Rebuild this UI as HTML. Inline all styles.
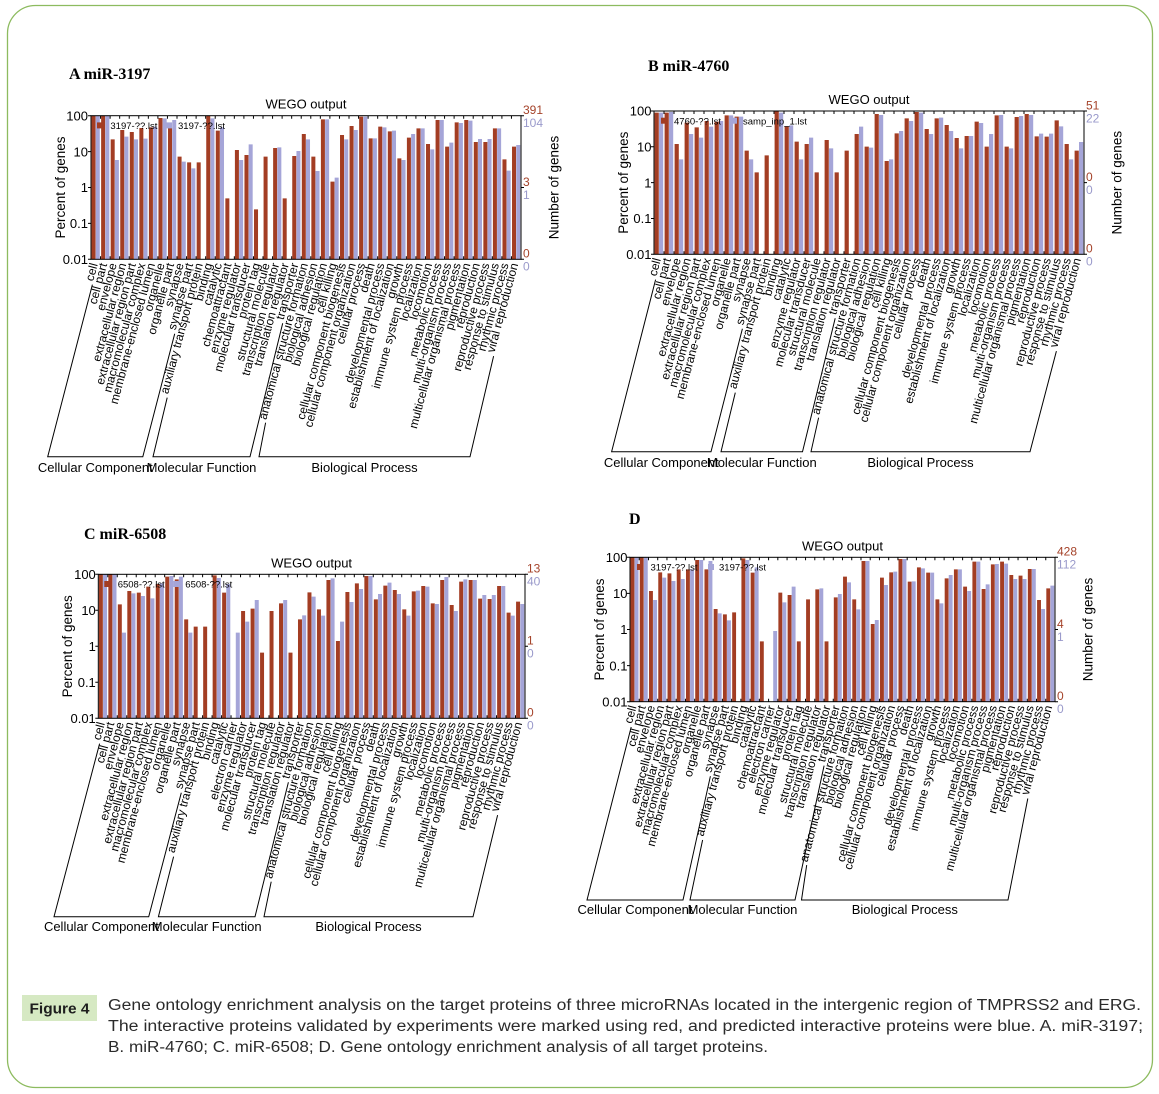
<!DOCTYPE html>
<html><head><meta charset="utf-8"><style>html,body{margin:0;padding:0;background:#fff}svg{display:block}</style></head><body>
<svg width="1159" height="1094" viewBox="0 0 1159 1094" xmlns="http://www.w3.org/2000/svg" font-family="'Liberation Sans', Arial, sans-serif">
<rect x="7.5" y="5.5" width="1145" height="1082" rx="28" fill="none" stroke="#8dbb5f" stroke-width="1.3"/>

<!-- ================= PANEL A ================= -->
<text x="69" y="79" font-family="'Liberation Serif', serif" font-weight="bold" font-size="16">A miR-3197</text>
<text x="306" y="108.7" text-anchor="middle" font-size="13">WEGO output</text>
<g transform="translate(91,50) scale(9.5556,0.33333)">
<path fill="#a33d23" d="M.06 197h.42V628h-.42zM1.06 197h.42V628h-.42zM2.06 268h.42V628h-.42zM3.06 240h.42V628h-.42zM4.06 246h.42V628h-.42zM5.06 234h.42V628h-.42zM6.06 232h.42V628h-.42zM7.06 204h.42V628h-.42zM8.06 233h.42V628h-.42zM9.06 320h.42V628h-.42zM10.06 337h.42V628h-.42zM11.06 337h.42V628h-.42zM12.06 197h.42V628h-.42zM13.06 242h.42V628h-.42zM14.06 445h.42V628h-.42zM15.06 300h.42V628h-.42zM16.06 315h.42V628h-.42zM17.06 478h.42V628h-.42zM18.06 320h.42V628h-.42zM19.06 294h.42V628h-.42zM20.06 445h.42V628h-.42zM21.06 318h.42V628h-.42zM22.06 252h.42V628h-.42zM23.06 320h.42V628h-.42zM24.06 208h.42V628h-.42zM25.06 395h.42V628h-.42zM26.06 255h.42V628h-.42zM27.06 228h.42V628h-.42zM28.06 200h.42V628h-.42zM29.06 265h.42V628h-.42zM30.06 230h.42V628h-.42zM31.06 244h.42V628h-.42zM32.06 325h.42V628h-.42zM33.06 263h.42V628h-.42zM34.06 235h.42V628h-.42zM35.06 282h.42V628h-.42zM36.06 210h.42V628h-.42zM37.06 290h.42V628h-.42zM38.06 217h.42V628h-.42zM39.06 210h.42V628h-.42zM40.06 276h.42V628h-.42zM41.06 276h.42V628h-.42zM42.06 235h.42V628h-.42zM43.06 328h.42V628h-.42zM44.06 290h.42V628h-.42z"/>
<path fill="#a5a5d8" d="M.5 197h.42V628h-.42zM1.5 197h.42V628h-.42zM2.5 330h.42V628h-.42zM3.5 260h.42V628h-.42zM4.5 268h.42V628h-.42zM5.5 266h.42V628h-.42zM6.5 230h.42V628h-.42zM7.5 205h.42V628h-.42zM8.5 210h.42V628h-.42zM9.5 335h.42V628h-.42zM10.5 355h.42V628h-.42zM12.5 205h.42V628h-.42zM13.5 232h.42V628h-.42zM15.5 330h.42V628h-.42zM16.5 283h.42V628h-.42zM19.5 292h.42V628h-.42zM21.5 303h.42V628h-.42zM22.5 268h.42V628h-.42zM23.5 363h.42V628h-.42zM24.5 208h.42V628h-.42zM25.5 383h.42V628h-.42zM26.5 268h.42V628h-.42zM27.5 240h.42V628h-.42zM28.5 200h.42V628h-.42zM29.5 265h.42V628h-.42zM30.5 232h.42V628h-.42zM31.5 242h.42V628h-.42zM32.5 330h.42V628h-.42zM33.5 252h.42V628h-.42zM34.5 235h.42V628h-.42zM35.5 298h.42V628h-.42zM36.5 210h.42V628h-.42zM37.5 278h.42V628h-.42zM38.5 219h.42V628h-.42zM39.5 212h.42V628h-.42zM40.5 267h.42V628h-.42zM41.5 267h.42V628h-.42zM42.5 235h.42V628h-.42zM43.5 362h.42V628h-.42zM44.5 285h.42V628h-.42z"/>
</g>
<rect x="91" y="115.7" width="430" height="143.6" fill="none" stroke="#000" stroke-width="1"/>
<line x1="100.06" y1="117.2" x2="521" y2="117.2" stroke="#000" stroke-width="3" stroke-dasharray="1 8.5556"/>
<line x1="100.06" y1="257.8" x2="521" y2="257.8" stroke="#000" stroke-width="3" stroke-dasharray="1 8.5556"/>
<path d="M88 115.7h3M88 151.6h3M88 187.5h3M88 223.4h3M88 259.3h3M521 115.7h3M521 187.5h3M521 259.3h3" stroke="#000" stroke-width="1"/>
<g font-size="13" text-anchor="end"><text x="88" y="120.4">100</text><text x="88" y="156.3">10</text><text x="88" y="192.2">1</text><text x="88" y="228.1">0.1</text><text x="88" y="264">0.01</text></g>
<g font-size="12"><text x="523" y="114" fill="#a5432a">391</text><text x="523" y="127" fill="#9a9acb">104</text><text x="523" y="185.8" fill="#a5432a">3</text><text x="523" y="198.8" fill="#9a9acb">1</text><text x="523" y="257.6" fill="#a5432a">0</text><text x="523" y="270.6" fill="#9a9acb">0</text></g>
<text transform="translate(64.8,187.5) rotate(-90)" text-anchor="middle" font-size="13.5">Percent of genes</text>
<text transform="translate(558.5,187.5) rotate(-90)" text-anchor="middle" font-size="13.5">Number of genes</text>
<rect x="97" y="122.4" width="6" height="6" fill="#a33d23"/><text x="110.4" y="129.1" font-size="9.5">3197-??.lst</text>
<rect x="166" y="122.4" width="6" height="6" fill="#a5a5d8"/><text x="178" y="129.1" font-size="9.5">3197-??.lst</text>
<g font-size="12" text-anchor="end">
<text transform="translate(97.8,264.3)rotate(-75)">cell</text>
<text transform="translate(107.3,264.3)rotate(-75)">cell part</text>
<text transform="translate(116.9,264.3)rotate(-75)">envelope</text>
<text transform="translate(126.4,264.3)rotate(-75)">extracellular region</text>
<text transform="translate(136,264.3)rotate(-75)">extracellular region part</text>
<text transform="translate(145.6,264.3)rotate(-75)">macromolecular complex</text>
<text transform="translate(155.1,264.3)rotate(-75)">membrane-enclosed lumen</text>
<text transform="translate(164.7,264.3)rotate(-75)">organelle</text>
<text transform="translate(174.2,264.3)rotate(-75)">organelle part</text>
<text transform="translate(183.8,264.3)rotate(-75)">synapse</text>
<text transform="translate(193.3,264.3)rotate(-75)">synapse part</text>
<text transform="translate(202.9,264.3)rotate(-75)">auxiliary transport protein</text>
<text transform="translate(212.4,264.3)rotate(-75)">binding</text>
<text transform="translate(222,264.3)rotate(-75)">catalytic</text>
<text transform="translate(231.6,264.3)rotate(-75)">chemoattractant</text>
<text transform="translate(241.1,264.3)rotate(-75)">enzyme regulator</text>
<text transform="translate(250.7,264.3)rotate(-75)">molecular transducer</text>
<text transform="translate(260.2,264.3)rotate(-75)">protein tag</text>
<text transform="translate(269.8,264.3)rotate(-75)">structural molecule</text>
<text transform="translate(279.3,264.3)rotate(-75)">transcription regulator</text>
<text transform="translate(288.9,264.3)rotate(-75)">translation regulator</text>
<text transform="translate(298.5,264.3)rotate(-75)">transporter</text>
<text transform="translate(308,264.3)rotate(-75)">anatomical structure formation</text>
<text transform="translate(317.6,264.3)rotate(-75)">biological adhesion</text>
<text transform="translate(327.1,264.3)rotate(-75)">biological regulation</text>
<text transform="translate(336.7,264.3)rotate(-75)">cell killing</text>
<text transform="translate(346.2,264.3)rotate(-75)">cellular component biogenesis</text>
<text transform="translate(355.8,264.3)rotate(-75)">cellular component organization</text>
<text transform="translate(365.3,264.3)rotate(-75)">cellular process</text>
<text transform="translate(374.9,264.3)rotate(-75)">death</text>
<text transform="translate(384.5,264.3)rotate(-75)">developmental process</text>
<text transform="translate(394,264.3)rotate(-75)">establishment of localization</text>
<text transform="translate(403.6,264.3)rotate(-75)">growth</text>
<text transform="translate(413.1,264.3)rotate(-75)">immune system process</text>
<text transform="translate(422.7,264.3)rotate(-75)">localization</text>
<text transform="translate(432.2,264.3)rotate(-75)">locomotion</text>
<text transform="translate(441.8,264.3)rotate(-75)">metabolic process</text>
<text transform="translate(451.4,264.3)rotate(-75)">multi-organism process</text>
<text transform="translate(460.9,264.3)rotate(-75)">multicellular organismal process</text>
<text transform="translate(470.5,264.3)rotate(-75)">pigmentation</text>
<text transform="translate(480,264.3)rotate(-75)">reproduction</text>
<text transform="translate(489.6,264.3)rotate(-75)">reproductive process</text>
<text transform="translate(499.1,264.3)rotate(-75)">response to stimulus</text>
<text transform="translate(508.7,264.3)rotate(-75)">rhythmic process</text>
<text transform="translate(518.2,264.3)rotate(-75)">viral reproduction</text>
</g>
<g fill="none" stroke="#000" stroke-width="1">
<polyline points="92.4,284.6 47.7,456.7 142.8,456.7 174.7,333.8"/>
<polyline points="167.2,397.6 153,456.7 250,456.7 282.7,323.2"/>
<polyline points="265.6,422.7 259,456.7 470,456.7 493.6,356.1"/>
</g>
<g font-size="13" text-anchor="middle"><text x="95.3" y="472">Cellular Component</text><text x="201.5" y="472">Molecular Function</text><text x="364.5" y="472">Biological Process</text></g>

<!-- ================= PANEL B ================= -->
<text x="648" y="71" font-family="'Liberation Serif', serif" font-weight="bold" font-size="16">B miR-4760</text>
<text x="869" y="104" text-anchor="middle" font-size="13">WEGO output</text>
<g transform="translate(654,50) scale(10,0.33333)">
<path fill="#a33d23" d="M.06 188h.42V613h-.42zM1.06 188h.42V613h-.42zM2.06 282h.42V613h-.42zM3.06 218h.42V613h-.42zM4.06 232h.42V613h-.42zM5.06 213h.42V613h-.42zM6.06 215h.42V613h-.42zM7.06 196h.42V613h-.42zM8.06 200h.42V613h-.42zM9.06 302h.42V613h-.42zM10.06 367h.42V613h-.42zM11.06 316h.42V613h-.42zM12.06 183h.42V613h-.42zM13.06 230h.42V613h-.42zM14.06 275h.42V613h-.42zM15.06 282h.42V613h-.42zM16.06 367h.42V613h-.42zM17.06 270h.42V613h-.42zM18.06 367h.42V613h-.42zM19.06 302h.42V613h-.42zM20.06 252h.42V613h-.42zM21.06 290h.42V613h-.42zM22.06 192h.42V613h-.42zM23.06 333h.42V613h-.42zM24.06 250h.42V613h-.42zM25.06 205h.42V613h-.42zM26.06 186h.42V613h-.42zM27.06 237h.42V613h-.42zM28.06 205h.42V613h-.42zM29.06 225h.42V613h-.42zM30.06 264h.42V613h-.42zM31.06 258h.42V613h-.42zM32.06 215h.42V613h-.42zM33.06 290h.42V613h-.42zM34.06 196h.42V613h-.42zM35.06 290h.42V613h-.42zM36.06 201h.42V613h-.42zM37.06 192h.42V613h-.42zM38.06 259h.42V613h-.42zM39.06 260h.42V613h-.42zM40.06 211h.42V613h-.42zM41.06 282h.42V613h-.42zM42.06 302h.42V613h-.42z"/>
<path fill="#a5a5d8" d="M.5 188h.42V613h-.42zM1.5 186h.42V613h-.42zM2.5 328h.42V613h-.42zM3.5 252h.42V613h-.42zM4.5 263h.42V613h-.42zM5.5 230h.42V613h-.42zM6.5 213h.42V613h-.42zM7.5 196h.42V613h-.42zM8.5 200h.42V613h-.42zM9.5 328h.42V613h-.42zM12.5 188h.42V613h-.42zM13.5 226h.42V613h-.42zM14.5 328h.42V613h-.42zM15.5 263h.42V613h-.42zM17.5 295h.42V613h-.42zM20.5 230h.42V613h-.42zM21.5 293h.42V613h-.42zM22.5 195h.42V613h-.42zM23.5 328h.42V613h-.42zM24.5 243h.42V613h-.42zM25.5 213h.42V613h-.42zM26.5 188h.42V613h-.42zM27.5 252h.42V613h-.42zM28.5 203h.42V613h-.42zM29.5 243h.42V613h-.42zM30.5 295h.42V613h-.42zM31.5 258h.42V613h-.42zM32.5 219h.42V613h-.42zM33.5 252h.42V613h-.42zM34.5 195h.42V613h-.42zM35.5 295h.42V613h-.42zM36.5 198h.42V613h-.42zM37.5 195h.42V613h-.42zM38.5 251h.42V613h-.42zM39.5 251h.42V613h-.42zM40.5 229h.42V613h-.42zM41.5 328h.42V613h-.42zM42.5 276h.42V613h-.42z"/>
</g>
<rect x="654" y="111" width="430" height="143.3" fill="none" stroke="#000" stroke-width="1"/>
<line x1="663.5" y1="112.5" x2="1084" y2="112.5" stroke="#000" stroke-width="3" stroke-dasharray="1 9"/>
<line x1="663.5" y1="252.8" x2="1084" y2="252.8" stroke="#000" stroke-width="3" stroke-dasharray="1 9"/>
<path d="M651 111h3M651 146.8h3M651 182.6h3M651 218.5h3M651 254.3h3M1084 111h3M1084 182.6h3M1084 254.3h3" stroke="#000" stroke-width="1"/>
<g font-size="13" text-anchor="end"><text x="651.5" y="115.7">100</text><text x="651.5" y="151.5">10</text><text x="651.5" y="187.3">1</text><text x="651.5" y="223.2">0.1</text><text x="651.5" y="259">0.01</text></g>
<g font-size="12"><text x="1086" y="109.3" fill="#a5432a">51</text><text x="1086" y="122.3" fill="#9a9acb">22</text><text x="1086" y="180.9" fill="#a5432a">0</text><text x="1086" y="193.9" fill="#9a9acb">0</text><text x="1086" y="252.6" fill="#a5432a">0</text><text x="1086" y="265.6" fill="#9a9acb">0</text></g>
<text transform="translate(627.8,182.7) rotate(-90)" text-anchor="middle" font-size="13.5">Percent of genes</text>
<text transform="translate(1121.5,182.7) rotate(-90)" text-anchor="middle" font-size="13.5">Number of genes</text>
<rect x="661" y="117.7" width="6" height="6" fill="#a33d23"/><text x="674" y="124.4" font-size="9.5">4760-??.lst</text>
<rect x="731" y="117.7" width="6" height="6" fill="#a5a5d8"/><text x="743" y="124.4" font-size="9.5">samp_inp_1.lst</text>
<g font-size="12" text-anchor="end">
<text transform="translate(661,259.3)rotate(-75)">cell</text>
<text transform="translate(671,259.3)rotate(-75)">cell part</text>
<text transform="translate(681,259.3)rotate(-75)">envelope</text>
<text transform="translate(691,259.3)rotate(-75)">extracellular region</text>
<text transform="translate(701,259.3)rotate(-75)">extracellular region part</text>
<text transform="translate(711,259.3)rotate(-75)">macromolecular complex</text>
<text transform="translate(721,259.3)rotate(-75)">membrane-enclosed lumen</text>
<text transform="translate(731,259.3)rotate(-75)">organelle</text>
<text transform="translate(741,259.3)rotate(-75)">organelle part</text>
<text transform="translate(751,259.3)rotate(-75)">synapse</text>
<text transform="translate(761,259.3)rotate(-75)">synapse part</text>
<text transform="translate(771,259.3)rotate(-75)">auxiliary transport protein</text>
<text transform="translate(781,259.3)rotate(-75)">binding</text>
<text transform="translate(791,259.3)rotate(-75)">catalytic</text>
<text transform="translate(801,259.3)rotate(-75)">enzyme regulator</text>
<text transform="translate(811,259.3)rotate(-75)">molecular transducer</text>
<text transform="translate(821,259.3)rotate(-75)">structural molecule</text>
<text transform="translate(831,259.3)rotate(-75)">transcription regulator</text>
<text transform="translate(841,259.3)rotate(-75)">translation regulator</text>
<text transform="translate(851,259.3)rotate(-75)">transporter</text>
<text transform="translate(861,259.3)rotate(-75)">anatomical structure formation</text>
<text transform="translate(871,259.3)rotate(-75)">biological adhesion</text>
<text transform="translate(881,259.3)rotate(-75)">biological regulation</text>
<text transform="translate(891,259.3)rotate(-75)">cell killing</text>
<text transform="translate(901,259.3)rotate(-75)">cellular component biogenesis</text>
<text transform="translate(911,259.3)rotate(-75)">cellular component organization</text>
<text transform="translate(921,259.3)rotate(-75)">cellular process</text>
<text transform="translate(931,259.3)rotate(-75)">death</text>
<text transform="translate(941,259.3)rotate(-75)">developmental process</text>
<text transform="translate(951,259.3)rotate(-75)">establishment of localization</text>
<text transform="translate(961,259.3)rotate(-75)">growth</text>
<text transform="translate(971,259.3)rotate(-75)">immune system process</text>
<text transform="translate(981,259.3)rotate(-75)">localization</text>
<text transform="translate(991,259.3)rotate(-75)">locomotion</text>
<text transform="translate(1001,259.3)rotate(-75)">metabolic process</text>
<text transform="translate(1011,259.3)rotate(-75)">multi-organism process</text>
<text transform="translate(1021,259.3)rotate(-75)">multicellular organismal process</text>
<text transform="translate(1031,259.3)rotate(-75)">pigmentation</text>
<text transform="translate(1041,259.3)rotate(-75)">reproduction</text>
<text transform="translate(1051,259.3)rotate(-75)">reproductive process</text>
<text transform="translate(1061,259.3)rotate(-75)">response to stimulus</text>
<text transform="translate(1071,259.3)rotate(-75)">rhythmic process</text>
<text transform="translate(1081,259.3)rotate(-75)">viral reproduction</text>
</g>
<g fill="none" stroke="#000" stroke-width="1">
<polyline points="655.6,279.6 611.6,451.7 711,451.7 742.4,328.8"/>
<polyline points="735.3,392.6 721,451.7 802.5,451.7 835.2,318.2"/>
<polyline points="818.6,417.7 811,451.7 1030,451.7 1056.4,351.1"/>
</g>
<g font-size="13" text-anchor="middle"><text x="661.3" y="467">Cellular Component</text><text x="761.8" y="467">Molecular Function</text><text x="920.5" y="467">Biological Process</text></g>

<!-- ================= PANEL C ================= -->
<defs><clipPath id="clipC"><rect x="0" y="480" width="541" height="470"/></clipPath></defs>
<text x="84" y="539" font-family="'Liberation Serif', serif" font-weight="bold" font-size="16">C miR-6508</text>
<g clip-path="url(#clipC)">
<text x="311.6" y="567.3" text-anchor="middle" font-size="13">WEGO output</text>
<g transform="translate(98.3,570) scale(9.482,0.33333)">
<path fill="#a33d23" d="M.06 13h.42V445h-.42zM1.06 13h.42V445h-.42zM2.06 103h.42V445h-.42zM3.06 63h.42V445h-.42zM4.06 68h.42V445h-.42zM5.06 50h.42V445h-.42zM6.06 42h.42V445h-.42zM7.06 20h.42V445h-.42zM8.06 28h.42V445h-.42zM9.06 148h.42V445h-.42zM10.06 170h.42V445h-.42zM11.06 170h.42V445h-.42zM12.06 16h.42V445h-.42zM13.06 68h.42V445h-.42zM15.06 123h.42V445h-.42zM16.06 116h.42V445h-.42zM17.06 248h.42V445h-.42zM18.06 123h.42V445h-.42zM19.06 100h.42V445h-.42zM20.06 248h.42V445h-.42zM21.06 148h.42V445h-.42zM22.06 67h.42V445h-.42zM23.06 118h.42V445h-.42zM24.06 30h.42V445h-.42zM25.06 213h.42V445h-.42zM26.06 66h.42V445h-.42zM27.06 40h.42V445h-.42zM28.06 18h.42V445h-.42zM29.06 88h.42V445h-.42zM30.06 47h.42V445h-.42zM31.06 60h.42V445h-.42zM32.06 118h.42V445h-.42zM33.06 64h.42V445h-.42zM34.06 48h.42V445h-.42zM35.06 100h.42V445h-.42zM36.06 30h.42V445h-.42zM37.06 105h.42V445h-.42zM38.06 35h.42V445h-.42zM39.06 30h.42V445h-.42zM40.06 86h.42V445h-.42zM41.06 87h.42V445h-.42zM42.06 48h.42V445h-.42zM43.06 128h.42V445h-.42zM44.06 95h.42V445h-.42z"/>
<path fill="#a5a5d8" d="M.5 13h.42V445h-.42zM1.5 13h.42V445h-.42zM2.5 188h.42V445h-.42zM3.5 70h.42V445h-.42zM4.5 78h.42V445h-.42zM5.5 85h.42V445h-.42zM6.5 40h.42V445h-.42zM7.5 18h.42V445h-.42zM8.5 20h.42V445h-.42zM9.5 188h.42V445h-.42zM12.5 24h.42V445h-.42zM13.5 42h.42V445h-.42zM14.5 188h.42V445h-.42zM15.5 155h.42V445h-.42zM16.5 90h.42V445h-.42zM19.5 90h.42V445h-.42zM21.5 136h.42V445h-.42zM22.5 80h.42V445h-.42zM23.5 137h.42V445h-.42zM24.5 25h.42V445h-.42zM25.5 155h.42V445h-.42zM26.5 96h.42V445h-.42zM27.5 57h.42V445h-.42zM28.5 18h.42V445h-.42zM29.5 72h.42V445h-.42zM30.5 38h.42V445h-.42zM31.5 72h.42V445h-.42zM32.5 137h.42V445h-.42zM33.5 62h.42V445h-.42zM34.5 50h.42V445h-.42zM35.5 102h.42V445h-.42zM36.5 21h.42V445h-.42zM37.5 123h.42V445h-.42zM38.5 28h.42V445h-.42zM39.5 30h.42V445h-.42zM40.5 75h.42V445h-.42zM41.5 75h.42V445h-.42zM42.5 48h.42V445h-.42zM43.5 137h.42V445h-.42zM44.5 102h.42V445h-.42z"/>
</g>
<rect x="98.3" y="574.3" width="426.7" height="144" fill="none" stroke="#000" stroke-width="1"/>
<line x1="107.28" y1="575.8" x2="525" y2="575.8" stroke="#000" stroke-width="3" stroke-dasharray="1 8.482"/>
<line x1="107.28" y1="716.8" x2="525" y2="716.8" stroke="#000" stroke-width="3" stroke-dasharray="1 8.482"/>
<path d="M95.3 574.3h3M95.3 610.3h3M95.3 646.3h3M95.3 682.3h3M95.3 718.3h3M525 574.3h3M525 646.3h3M525 718.3h3" stroke="#000" stroke-width="1"/>
<g font-size="13" text-anchor="end"><text x="95.8" y="579">100</text><text x="95.8" y="615">10</text><text x="95.8" y="651">1</text><text x="95.8" y="687">0.1</text><text x="95.8" y="723">0.01</text></g>
<g font-size="12"><text x="527" y="572.6" fill="#a5432a">13</text><text x="527" y="585.6" fill="#9a9acb">40</text><text x="527" y="644.6" fill="#a5432a">1</text><text x="527" y="657.6" fill="#9a9acb">0</text><text x="527" y="716.6" fill="#a5432a">0</text><text x="527" y="729.6" fill="#9a9acb">0</text></g>
</g>
<text transform="translate(72.1,646.3) rotate(-90)" text-anchor="middle" font-size="13.5">Percent of genes</text>
<rect x="104.3" y="581" width="6" height="6" fill="#a33d23"/><text x="117.7" y="587.7" font-size="9.5">6508-??.lst</text>
<rect x="173.3" y="581" width="6" height="6" fill="#a5a5d8"/><text x="185.3" y="587.7" font-size="9.5">6508-??.lst</text>
<g font-size="12" text-anchor="end">
<text transform="translate(105,723.3)rotate(-75)">cell</text>
<text transform="translate(114.5,723.3)rotate(-75)">cell part</text>
<text transform="translate(124,723.3)rotate(-75)">envelope</text>
<text transform="translate(133.5,723.3)rotate(-75)">extracellular region</text>
<text transform="translate(143,723.3)rotate(-75)">extracellular region part</text>
<text transform="translate(152.4,723.3)rotate(-75)">macromolecular complex</text>
<text transform="translate(161.9,723.3)rotate(-75)">membrane-enclosed lumen</text>
<text transform="translate(171.4,723.3)rotate(-75)">organelle</text>
<text transform="translate(180.9,723.3)rotate(-75)">organelle part</text>
<text transform="translate(190.4,723.3)rotate(-75)">synapse</text>
<text transform="translate(199.9,723.3)rotate(-75)">synapse part</text>
<text transform="translate(209.3,723.3)rotate(-75)">auxiliary transport protein</text>
<text transform="translate(218.8,723.3)rotate(-75)">binding</text>
<text transform="translate(228.3,723.3)rotate(-75)">catalytic</text>
<text transform="translate(237.8,723.3)rotate(-75)">electron carrier</text>
<text transform="translate(247.3,723.3)rotate(-75)">enzyme regulator</text>
<text transform="translate(256.8,723.3)rotate(-75)">molecular transducer</text>
<text transform="translate(266.2,723.3)rotate(-75)">protein tag</text>
<text transform="translate(275.7,723.3)rotate(-75)">structural molecule</text>
<text transform="translate(285.2,723.3)rotate(-75)">transcription regulator</text>
<text transform="translate(294.7,723.3)rotate(-75)">translation regulator</text>
<text transform="translate(304.2,723.3)rotate(-75)">transporter</text>
<text transform="translate(313.6,723.3)rotate(-75)">anatomical structure formation</text>
<text transform="translate(323.1,723.3)rotate(-75)">biological adhesion</text>
<text transform="translate(332.6,723.3)rotate(-75)">biological regulation</text>
<text transform="translate(342.1,723.3)rotate(-75)">cell killing</text>
<text transform="translate(351.6,723.3)rotate(-75)">cellular component biogenesis</text>
<text transform="translate(361.1,723.3)rotate(-75)">cellular component organization</text>
<text transform="translate(370.5,723.3)rotate(-75)">cellular process</text>
<text transform="translate(380,723.3)rotate(-75)">death</text>
<text transform="translate(389.5,723.3)rotate(-75)">developmental process</text>
<text transform="translate(399,723.3)rotate(-75)">establishment of localization</text>
<text transform="translate(408.5,723.3)rotate(-75)">growth</text>
<text transform="translate(417.9,723.3)rotate(-75)">immune system process</text>
<text transform="translate(427.4,723.3)rotate(-75)">localization</text>
<text transform="translate(436.9,723.3)rotate(-75)">locomotion</text>
<text transform="translate(446.4,723.3)rotate(-75)">metabolic process</text>
<text transform="translate(455.9,723.3)rotate(-75)">multi-organism process</text>
<text transform="translate(465.4,723.3)rotate(-75)">multicellular organismal process</text>
<text transform="translate(474.8,723.3)rotate(-75)">pigmentation</text>
<text transform="translate(484.3,723.3)rotate(-75)">reproduction</text>
<text transform="translate(493.8,723.3)rotate(-75)">reproductive process</text>
<text transform="translate(503.3,723.3)rotate(-75)">response to stimulus</text>
<text transform="translate(512.8,723.3)rotate(-75)">rhythmic process</text>
<text transform="translate(522.2,723.3)rotate(-75)">viral reproduction</text>
</g>
<g fill="none" stroke="#000" stroke-width="1">
<polyline points="99.6,743.6 54,916.7 148.7,916.7 181.3,792.8"/>
<polyline points="173.6,856.6 158.4,916.7 255,916.7 288.4,782.2"/>
<polyline points="271.2,881.7 264,916.7 473,916.7 497.6,815.1"/>
</g>
<g font-size="13" text-anchor="middle"><text x="101.4" y="931">Cellular Component</text><text x="206.7" y="931">Molecular Function</text><text x="368.5" y="931">Biological Process</text></g>

<!-- ================= PANEL D ================= -->
<text x="629" y="524" font-family="'Liberation Serif', serif" font-weight="bold" font-size="16">D</text>
<text x="842.5" y="550.3" text-anchor="middle" font-size="13">WEGO output</text>
<g transform="translate(630,505) scale(9.2391,0.33333)">
<path fill="#a33d23" d="M.06 157h.42V590h-.42zM1.06 157h.42V590h-.42zM2.06 258h.42V590h-.42zM3.06 202h.42V590h-.42zM4.06 205h.42V590h-.42zM5.06 193h.42V590h-.42zM6.06 193h.42V590h-.42zM7.06 165h.42V590h-.42zM8.06 193h.42V590h-.42zM9.06 312h.42V590h-.42zM10.06 328h.42V590h-.42zM11.06 322h.42V590h-.42zM12.06 160h.42V590h-.42zM13.06 203h.42V590h-.42zM14.06 409h.42V590h-.42zM16.06 263h.42V590h-.42zM17.06 270h.42V590h-.42zM18.06 409h.42V590h-.42zM19.06 283h.42V590h-.42zM20.06 253h.42V590h-.42zM21.06 409h.42V590h-.42zM22.06 277h.42V590h-.42zM23.06 215h.42V590h-.42zM24.06 283h.42V590h-.42zM25.06 168h.42V590h-.42zM26.06 357h.42V590h-.42zM27.06 218h.42V590h-.42zM28.06 202h.42V590h-.42zM29.06 162h.42V590h-.42zM30.06 230h.42V590h-.42zM31.06 187h.42V590h-.42zM32.06 203h.42V590h-.42zM33.06 283h.42V590h-.42zM34.06 220h.42V590h-.42zM35.06 193h.42V590h-.42zM36.06 245h.42V590h-.42zM37.06 170h.42V590h-.42zM38.06 252h.42V590h-.42zM39.06 178h.42V590h-.42zM40.06 170h.42V590h-.42zM41.06 210h.42V590h-.42zM42.06 212h.42V590h-.42zM43.06 192h.42V590h-.42zM44.06 285h.42V590h-.42zM45.06 250h.42V590h-.42z"/>
<path fill="#a5a5d8" d="M.5 157h.42V590h-.42zM1.5 157h.42V590h-.42zM2.5 285h.42V590h-.42zM3.5 218h.42V590h-.42zM4.5 228h.42V590h-.42zM5.5 222h.42V590h-.42zM6.5 193h.42V590h-.42zM7.5 165h.42V590h-.42zM8.5 168h.42V590h-.42zM9.5 325h.42V590h-.42zM10.5 346h.42V590h-.42zM12.5 165h.42V590h-.42zM13.5 187h.42V590h-.42zM15.5 378h.42V590h-.42zM16.5 292h.42V590h-.42zM17.5 245h.42V590h-.42zM20.5 250h.42V590h-.42zM22.5 267h.42V590h-.42zM23.5 232h.42V590h-.42zM24.5 313h.42V590h-.42zM25.5 168h.42V590h-.42zM26.5 345h.42V590h-.42zM27.5 240h.42V590h-.42zM28.5 200h.42V590h-.42zM29.5 162h.42V590h-.42zM30.5 229h.42V590h-.42zM31.5 190h.42V590h-.42zM32.5 203h.42V590h-.42zM33.5 295h.42V590h-.42zM34.5 210h.42V590h-.42zM35.5 193h.42V590h-.42zM36.5 258h.42V590h-.42zM37.5 170h.42V590h-.42zM38.5 238h.42V590h-.42zM39.5 177h.42V590h-.42zM40.5 176h.42V590h-.42zM41.5 222h.42V590h-.42zM42.5 222h.42V590h-.42zM43.5 192h.42V590h-.42zM44.5 312h.42V590h-.42zM45.5 242h.42V590h-.42z"/>
</g>
<rect x="630" y="557.3" width="425" height="144.4" fill="none" stroke="#000" stroke-width="1"/>
<line x1="638.74" y1="558.8" x2="1055" y2="558.8" stroke="#000" stroke-width="3" stroke-dasharray="1 8.2391"/>
<line x1="638.74" y1="700.2" x2="1055" y2="700.2" stroke="#000" stroke-width="3" stroke-dasharray="1 8.2391"/>
<path d="M627 557.3h3M627 593.4h3M627 629.5h3M627 665.6h3M627 701.7h3M1055 557.3h3M1055 629.5h3M1055 701.7h3" stroke="#000" stroke-width="1"/>
<g font-size="13" text-anchor="end"><text x="627.5" y="562">100</text><text x="627.5" y="598.1">10</text><text x="627.5" y="634.2">1</text><text x="627.5" y="670.3">0.1</text><text x="627.5" y="706.4">0.01</text></g>
<g font-size="12"><text x="1057" y="555.6" fill="#a5432a">428</text><text x="1057" y="568.6" fill="#9a9acb">112</text><text x="1057" y="627.8" fill="#a5432a">4</text><text x="1057" y="640.8" fill="#9a9acb">1</text><text x="1057" y="700" fill="#a5432a">0</text><text x="1057" y="713" fill="#9a9acb">0</text></g>
<text transform="translate(603.8,629.5) rotate(-90)" text-anchor="middle" font-size="13.5">Percent of genes</text>
<text transform="translate(1092.5,629.5) rotate(-90)" text-anchor="middle" font-size="13.5">Number of genes</text>
<rect x="637" y="564" width="6" height="6" fill="#a33d23"/><text x="650.5" y="570.7" font-size="9.5">3197-??.lst</text>
<rect x="708" y="564" width="6" height="6" fill="#a5a5d8"/><text x="719" y="570.7" font-size="9.5">3197-??.lst</text>
<g font-size="12" text-anchor="end">
<text transform="translate(636.6,706.7)rotate(-75)">cell</text>
<text transform="translate(645.9,706.7)rotate(-75)">cell part</text>
<text transform="translate(655.1,706.7)rotate(-75)">envelope</text>
<text transform="translate(664.3,706.7)rotate(-75)">extracellular region</text>
<text transform="translate(673.6,706.7)rotate(-75)">extracellular region part</text>
<text transform="translate(682.8,706.7)rotate(-75)">macromolecular complex</text>
<text transform="translate(692.1,706.7)rotate(-75)">membrane-enclosed lumen</text>
<text transform="translate(701.3,706.7)rotate(-75)">organelle</text>
<text transform="translate(710.5,706.7)rotate(-75)">organelle part</text>
<text transform="translate(719.8,706.7)rotate(-75)">synapse</text>
<text transform="translate(729,706.7)rotate(-75)">synapse part</text>
<text transform="translate(738.3,706.7)rotate(-75)">auxiliary transport protein</text>
<text transform="translate(747.5,706.7)rotate(-75)">binding</text>
<text transform="translate(756.7,706.7)rotate(-75)">catalytic</text>
<text transform="translate(766,706.7)rotate(-75)">chemoattractant</text>
<text transform="translate(775.2,706.7)rotate(-75)">electron carrier</text>
<text transform="translate(784.4,706.7)rotate(-75)">enzyme regulator</text>
<text transform="translate(793.7,706.7)rotate(-75)">molecular transducer</text>
<text transform="translate(802.9,706.7)rotate(-75)">protein tag</text>
<text transform="translate(812.2,706.7)rotate(-75)">structural molecule</text>
<text transform="translate(821.4,706.7)rotate(-75)">transcription regulator</text>
<text transform="translate(830.6,706.7)rotate(-75)">translation regulator</text>
<text transform="translate(839.9,706.7)rotate(-75)">transporter</text>
<text transform="translate(849.1,706.7)rotate(-75)">anatomical structure formation</text>
<text transform="translate(858.4,706.7)rotate(-75)">biological adhesion</text>
<text transform="translate(867.6,706.7)rotate(-75)">biological regulation</text>
<text transform="translate(876.8,706.7)rotate(-75)">cell killing</text>
<text transform="translate(886.1,706.7)rotate(-75)">cellular component biogenesis</text>
<text transform="translate(895.3,706.7)rotate(-75)">cellular component organization</text>
<text transform="translate(904.6,706.7)rotate(-75)">cellular process</text>
<text transform="translate(913.8,706.7)rotate(-75)">death</text>
<text transform="translate(923,706.7)rotate(-75)">developmental process</text>
<text transform="translate(932.3,706.7)rotate(-75)">establishment of localization</text>
<text transform="translate(941.5,706.7)rotate(-75)">growth</text>
<text transform="translate(950.8,706.7)rotate(-75)">immune system process</text>
<text transform="translate(960,706.7)rotate(-75)">localization</text>
<text transform="translate(969.2,706.7)rotate(-75)">locomotion</text>
<text transform="translate(978.5,706.7)rotate(-75)">metabolic process</text>
<text transform="translate(987.7,706.7)rotate(-75)">multi-organism process</text>
<text transform="translate(997,706.7)rotate(-75)">multicellular organismal process</text>
<text transform="translate(1006.2,706.7)rotate(-75)">pigmentation</text>
<text transform="translate(1015.4,706.7)rotate(-75)">reproduction</text>
<text transform="translate(1024.7,706.7)rotate(-75)">reproductive process</text>
<text transform="translate(1033.9,706.7)rotate(-75)">response to stimulus</text>
<text transform="translate(1043.2,706.7)rotate(-75)">rhythmic process</text>
<text transform="translate(1052.4,706.7)rotate(-75)">viral reproduction</text>
</g>
<g fill="none" stroke="#000" stroke-width="1">
<polyline points="631.2,727 587,900 683,900 710.4,776.2"/>
<polyline points="702.6,840 690,900 795,900 824.1,765.6"/>
<polyline points="806.7,865.1 801.5,900 1008,900 1027.8,798.5"/>
</g>
<g font-size="13" text-anchor="middle"><text x="635" y="914">Cellular Component</text><text x="742.5" y="914">Molecular Function</text><text x="904.8" y="914">Biological Process</text></g>

<!-- ================= CAPTION ================= -->
<rect x="22" y="995" width="75" height="26" fill="#d6e9c3"/>
<text x="59.5" y="1013.5" text-anchor="middle" font-weight="bold" font-size="15" fill="#1e1e1e" textLength="60" lengthAdjust="spacingAndGlyphs">Figure 4</text>
<g font-size="15.5" fill="#2b2b2b">
<text x="108" y="1010" textLength="1033" lengthAdjust="spacingAndGlyphs">Gene ontology enrichment analysis on the target proteins of three microRNAs located in the intergenic region of TMPRSS2 and ERG.</text>
<text x="108" y="1031" textLength="1035" lengthAdjust="spacingAndGlyphs">The interactive proteins validated by experiments were marked using red, and predicted interactive proteins were blue. A. miR-3197;</text>
<text x="108" y="1052" textLength="660" lengthAdjust="spacingAndGlyphs">B. miR-4760; C. miR-6508; D. Gene ontology enrichment analysis of all target proteins.</text>
</g>
</svg>
</body></html>
